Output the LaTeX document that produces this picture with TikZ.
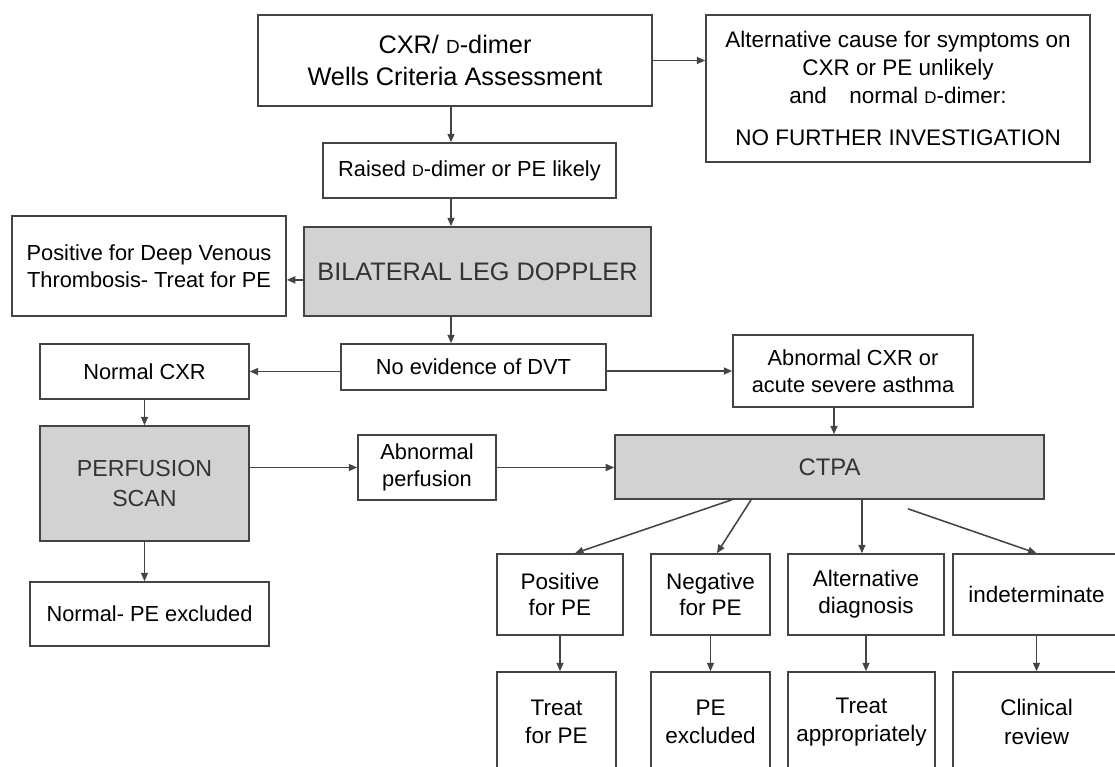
\documentclass[tikz,border=0pt]{standalone}
\usepackage{fontspec}
\setmainfont{Liberation Sans}
\usepackage{tikz}
\usetikzlibrary{positioning,arrows.meta,calc}
\definecolor{edgegray}{HTML}{444444}
\definecolor{testgray}{HTML}{D2D2D2}
\newcommand{\dd}{\scalebox{0.75}{D}}
\tikzset{
  >={Triangle[length=6pt,width=5pt]},
}

\begin{document}
\begin{tikzpicture}[
  x=0.025cm, y=-0.025cm,
  line width=1.1pt, draw=edgegray,
  box/.style={draw=edgegray, line width=1.1pt, fill=white, align=center, inner sep=0pt,
    text=black, font=\fontsize{15.5}{19.5}\selectfont},
  test/.style={box, fill=testgray, text=black!80},
  big/.style={font=\fontsize{18}{22.5}\selectfont},
  leaf/.style={box, minimum height=2.025cm, font=\fontsize{16}{19}\selectfont},
  outcome/.style={box, minimum height=2.5cm, font=\fontsize{16}{20}\selectfont}
]
\clip (0,0) rectangle (1115,767);

% assessment
\node[box, big, minimum width=9.85cm, minimum height=2.275cm] (wells) at (455,60.5)
  {CXR/ \dd-dimer\\Wells Criteria Assessment};
\node[box, minimum width=9.6cm, minimum height=3.675cm, font=\fontsize{16}{20}\selectfont] (alt) at (898,88.5)
  {Alternative cause for symptoms on\\CXR or PE unlikely\\and\quad normal \dd-dimer:\\[10pt]NO FURTHER INVESTIGATION};
\node[box, minimum width=7.325cm, minimum height=1.375cm] (raised) at (469.5,170.5)
  {Raised \dd-dimer or PE likely};

% doppler
\node[box, minimum width=6.85cm, minimum height=2.5cm] (dvt) at (149,266)
  {Positive for Deep Venous\\Thrombosis- Treat for PE};
\node[test, big, minimum width=8.675cm, minimum height=2.225cm] (bld) at (477.5,271.5)
  {BILATERAL LEG DOPPLER};
\node[box, minimum width=6.625cm, minimum height=1.15cm] (noev) at (473.5,367)
  {No evidence of DVT};
\node[box, minimum width=5.225cm, minimum height=1.375cm] (ncxr) at (144.5,371.5)
  {Normal CXR};
\node[box, minimum width=6cm, minimum height=1.8cm] (acxr) at (853,371)
  {Abnormal CXR or\\acute severe asthma};

% perfusion
\node[test, minimum width=5.225cm, minimum height=2.875cm, font=\fontsize{16.5}{21}\selectfont] (perf) at (144.5,483.5)
  {PERFUSION\\SCAN};
\node[box, minimum width=3.45cm, minimum height=1.625cm] (abperf) at (427,467.5)
  {Abnormal\\perfusion};
\node[box, minimum width=5.975cm, minimum height=1.6cm] (npe) at (149.5,614)
  {Normal- PE excluded};

% ctpa
\node[test, minimum width=10.725cm, minimum height=1.6cm, font=\fontsize{17}{21}\selectfont] (ctpa) at (829.5,467)
  {CTPA};
\node[leaf, minimum width=3.15cm] (pos) at (560,594.5) {Positive\\for PE};
\node[leaf, minimum width=2.975cm] (neg) at (710.5,594.5) {Negative\\for PE};
\node[leaf, minimum width=3.9cm] (altd) at (866,594.5) {Alternative\\diagnosis};
\node[leaf, minimum width=4.175cm] (ind) at (1036.5,594.5) {indeterminate};

\node[outcome, minimum width=2.975cm] (treat) at (556.5,722) {Treat\\for PE};
\node[outcome, minimum width=2.975cm] (pex) at (710.5,722) {PE\\excluded};
\node[outcome, minimum width=3.675cm] (tapp) at (861.5,722) {Treat\\appropriately};
\node[outcome, minimum width=4.175cm] (clin) at (1036.5,722) {Clinical\\review};

% connectors
\coordinate (spine) at (451,0);
\draw[->] (wells.south -| spine) -- (raised.north -| spine);
\draw[->] (wells.east) -- (wells.east -| alt.west);
\draw[->] (raised.south -| spine) -- (bld.north -| spine);
\draw[->] ([yshift=-0.21cm]bld.west) -- ([yshift=-0.21cm]bld.west -| dvt.east);
\draw[->] (bld.south -| spine) -- (noev.north -| spine);
\draw[->] (noev.west |- ncxr.east) -- (ncxr.east);
\draw[->] (noev.east |- acxr.west) -- (acxr.west);
\draw[->] (ncxr.south) -- (perf.north);
\draw[->] (perf.south) -- (perf.south |- npe.north);
\draw[->] (perf.east |- abperf.west) -- (abperf.west);
\draw[->] (abperf.east) -- (abperf.east -| ctpa.west);
\draw[->] ([xshift=-0.475cm]acxr.south) -- ([xshift=-0.475cm]acxr.south |- ctpa.north);

\draw[->] ([xshift=-2.44cm]ctpa.south) -- ([xshift=0.375cm]pos.north);
\draw[->] ([xshift=-1.96cm]ctpa.south) -- ([xshift=0.16cm]neg.north);
\draw[->] ([xshift=0.81cm]ctpa.south) -- ([xshift=0.81cm]ctpa.south |- altd.north);
\draw[->] ([xshift=1.96cm,yshift=-0.225cm]ctpa.south) -- (ind.north);

\draw[->] (pos.south) -- (pos.south |- treat.north);
\draw[->] (neg.south) -- (neg.south |- pex.north);
\draw[->] (altd.south) -- (altd.south |- tapp.north);
\draw[->] (ind.south) -- (ind.south |- clin.north);
\end{tikzpicture}
\end{document}
